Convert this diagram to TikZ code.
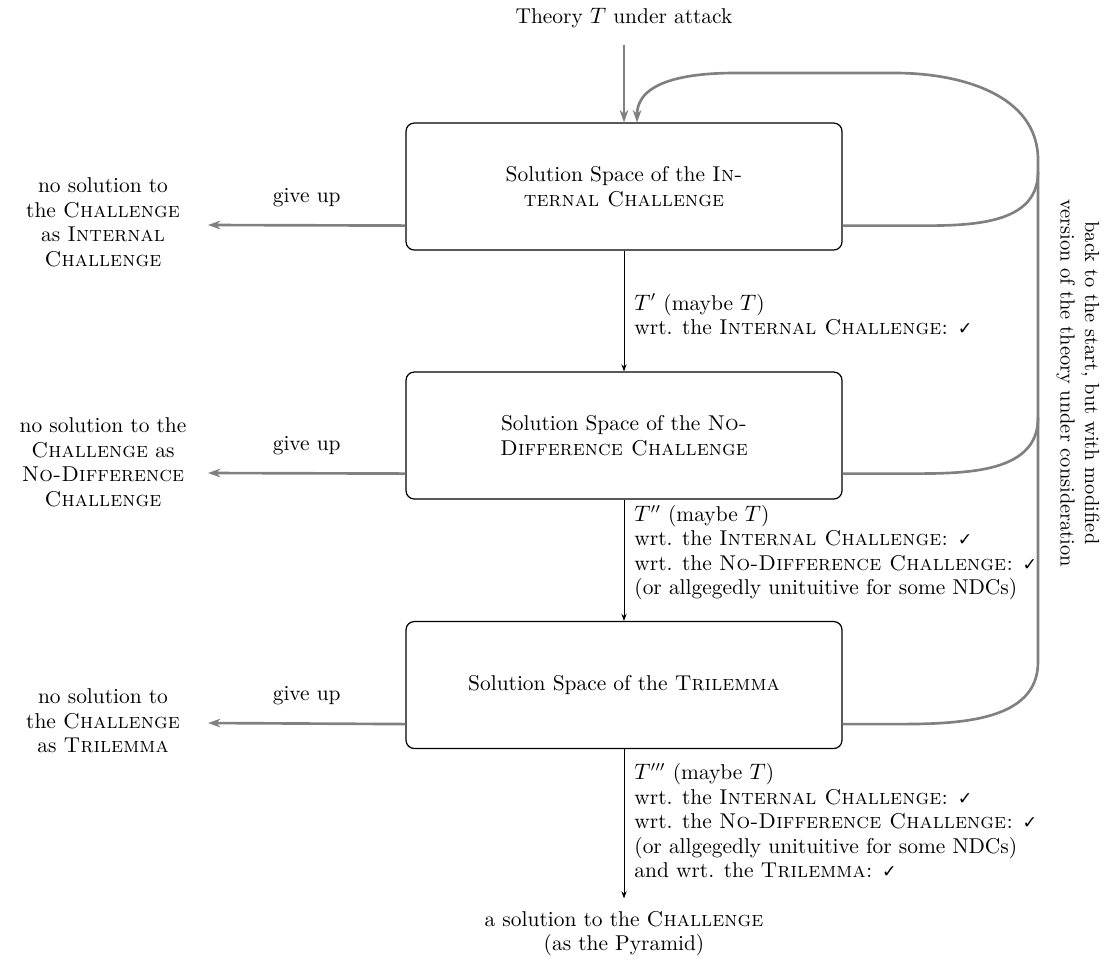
\documentclass[tikz,border=0pt]{standalone}
\usepackage{fontspec}
\newfontfamily\capsfont{lmromancaps10-regular.otf}[LetterSpace=0.5]
\newfontfamily\symfont{DejaVu Sans}
\usetikzlibrary{arrows.meta,calc}
\newcommand\caps[1]{{\capsfont #1}}
\newcommand\ck{{\symfont\fontsize{8.5pt}{12pt}\selectfont ✓}}
\begin{document}
\begin{tikzpicture}[x=0.49pt,y=-0.49pt,
  font=\fontsize{10.5pt}{12pt}\selectfont,
  box/.style={draw, line width=0.6pt, rounded corners=4pt, minimum width=213.6pt,
    minimum height=62.2pt, align=center, inner sep=0pt},
  flow/.style={-{Stealth[length=3.5pt,width=2.6pt]}, line width=0.5pt},
  loopline/.style={draw=gray, line width=1.3pt},
  grayarrow/.style={loopline, -{Stealth[length=6pt,width=4.2pt,inset=1.8pt]}},
  note/.style={align=left, anchor=west, inner sep=0pt},
  side/.style={align=center, inner sep=0pt},
  giveup/.style={midway, yshift=13.7pt, inner sep=0pt}]
\useasboundingbox (0,0) rectangle (1115,960);

% the three solution spaces
\node[inner sep=0pt] (start) at (624,18) {Theory $T$ under attack};
\node[box] (b1) at (624,186.5) {Solution Space of the \caps{In-}\\\caps{ternal Challenge}};
\node[box] (b2) at (624,435.5) {Solution Space of the \caps{No-}\\\caps{Difference Challenge}};
\node[box] (b3) at (624,685) {Solution Space of the \caps{Trilemma}};

% what survives each stage
\node[note] (l1) at (634,314.5) {$T'$ (maybe $T$)\\
  wrt. the \caps{Internal Challenge:} \ck};
\node[note] (l2) at (634,552.5) {$T''$ (maybe $T$)\\
  wrt. the \caps{Internal Challenge:} \ck\\
  wrt. the \caps{No-Difference Challenge:} \ck\\
  (or allgegedly unituitive for some NDCs)};
\node[note] (l3) at (634,821) {$T'''$ (maybe $T$)\\
  wrt. the \caps{Internal Challenge:} \ck\\
  wrt. the \caps{No-Difference Challenge:} \ck\\
  (or allgegedly unituitive for some NDCs)\\
  and wrt. the \caps{Trilemma:} \ck};
\node[side] (res) at (624,933.5) {a solution to the \caps{Challenge}\\(as the Pyramid)};

% failure outcomes
\node[side] (f1) at (103,222.5) {no solution to\\the \caps{Challenge}\\as \caps{Internal}\\\caps{Challenge}};
\node[side] (f2) at (103,462.5) {no solution to the\\\caps{Challenge} as\\\caps{No-Difference}\\\caps{Challenge}};
\node[side] (f3) at (103,721) {no solution to\\the \caps{Challenge}\\as \caps{Trilemma}};

\node[rotate=-90, align=center, inner sep=0pt, font=\fontsize{10pt}{12pt}\selectfont]
  (back) at (1078,383)
  {back to the start, but with modified\\version of the theory under consideration};

% arrow ends and junctions of the return loop
\coordinate (g1) at (208,225);
\coordinate (g2) at (208,473);
\coordinate (g3) at (208,723);
\coordinate (j1) at (1038,172);
\coordinate (j2) at (1038,418);
\coordinate (j3) at (1038,662);
\coordinate (top) at (1038,160);
\coordinate (tr) at (895,73);
\coordinate (tl) at (735,73);

% main flow
\draw[grayarrow, shorten <=8pt] (start.south) -- (b1.north);
\draw[flow] (b1) -- (b2);
\draw[flow] (b2) -- (b3);
\draw[flow, shorten >=6pt] (b3) -- (res);

% giving up
\draw[grayarrow] ($(b1.south west)+(0,-25)$) -- (g1) node[giveup] {give up};
\draw[grayarrow] ($(b2.south west)+(0,-26)$) -- (g2) node[giveup] {give up};
\draw[grayarrow] ($(b3.south west)+(0,-25)$) -- (g3) node[giveup] {give up};

% back to the start
\draw[loopline] ($(b1.south east)+(0,-25)$) -- ++(57,0) to[out=0,in=-90] (j1);
\draw[loopline] ($(b2.south east)+(0,-26)$) -- ++(57,0) to[out=0,in=-90] (j2);
\draw[grayarrow] ($(b3.south east)+(0,-25)$) -- ++(57,0) to[out=0,in=-90] (j3)
  -- (top) to[out=90,in=0] (tr) -- (tl) to[out=180,in=90] ([xshift=6.4pt]b1.north);
\end{tikzpicture}
\end{document}
